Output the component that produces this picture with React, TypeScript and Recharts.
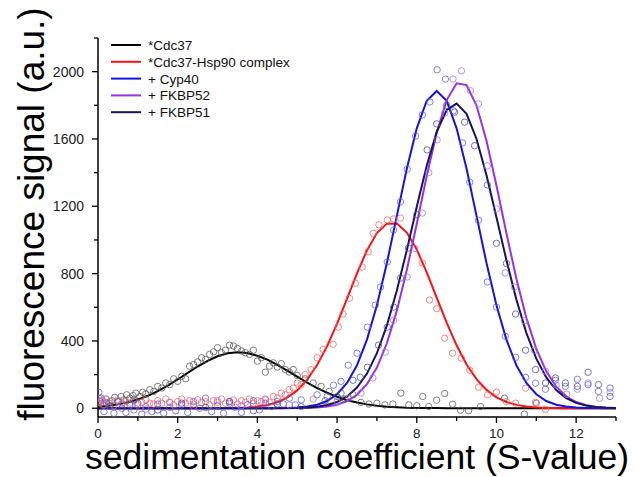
import React from 'react';
import { ComposedChart, Line, Scatter, XAxis, YAxis, Label } from 'recharts';

const FONT = "'Liberation Sans', Arial, Helvetica, sans-serif";

// sedimentation coefficient grid for the fitted curves
const sValues = [
  0, 0.25, 0.5, 0.75, 1, 1.25, 1.5, 1.75, 2, 2.25, 2.5, 2.75, 3, 3.25, 3.5, 3.75, 4, 4.25,
  4.5, 4.75, 5, 5.25, 5.5, 5.75, 6, 6.25, 6.5, 6.75, 7, 7.25, 7.5, 7.75, 8, 8.25, 8.5, 8.75,
  9, 9.25, 9.5, 9.75, 10, 10.25, 10.5, 10.75, 11, 11.25, 11.5, 11.75, 12, 12.25, 12.5, 12.75, 13
];

const cdc37Fit = [
  9, 15, 23, 36, 52, 74, 102, 135, 171, 210, 248, 282, 309, 327, 333, 328, 312, 289,
  258, 224, 188, 152, 120, 92, 68, 48, 34, 23, 15, 9, 6, 3, 2, 1, 1, 0,
  0, 0, 0, 0, 0, 0, 0, 0, 0, 0, 0, 0, 0, 0, 0, 0, 0
];
const hsp90Fit = [
  0, 0, 0, 0, 0, 0, 0, 0, 0, 0, 0, 0, 0, 1, 2, 5, 10, 19,
  36, 63, 106, 170, 257, 369, 503, 652, 802, 938, 1041, 1097, 1098, 1044, 943, 808, 658, 509,
  374, 260, 173, 109, 65, 37, 20, 10, 5, 2, 1, 0, 0, 0, 0, 0, 0
];
const cyp40Fit = [
  0, 0, 0, 0, 0, 0, 0, 0, 0, 0, 0, 0, 0, 0, 0, 0, 0, 0,
  1, 2, 4, 10, 21, 43, 83, 150, 255, 408, 612, 863, 1143, 1423, 1663, 1827, 1885, 1827,
  1663, 1423, 1143, 863, 612, 408, 255, 150, 83, 43, 21, 10, 4, 2, 1, 0, 0
];
const fkbp52Fit = [
  0, 0, 0, 0, 0, 0, 0, 0, 0, 0, 0, 0, 0, 0, 0, 0, 0, 0,
  0, 0, 1, 2, 4, 10, 21, 42, 80, 143, 242, 386, 580, 821, 1096, 1380, 1637, 1831,
  1931, 1920, 1799, 1589, 1324, 1040, 770, 537, 353, 219, 128, 71, 37, 18, 8, 4, 2
];
const fkbp51Fit = [
  0, 0, 0, 0, 0, 0, 0, 0, 0, 0, 0, 0, 0, 0, 0, 0, 0, 0,
  0, 1, 2, 4, 9, 19, 37, 70, 123, 206, 327, 492, 699, 939, 1197, 1441, 1642, 1772,
  1810, 1749, 1600, 1385, 1135, 880, 646, 448, 295, 183, 108, 60, 32, 16, 7, 3, 1
];

// measured points [S-value, signal]
const cdc37Points: [number, number][] = [
  [0.05, 40], [0.12, 20], [0.2, 55], [0.28, 30], [0.35, 45], [0.42, 65], [0.5, 40], [0.58, 70],
  [0.65, 50], [0.72, 80], [0.8, 60], [0.88, 75], [0.95, 90], [1.05, 70], [1.12, 95], [1.2, 85],
  [1.3, 110], [1.4, 100], [1.5, 130], [1.6, 120], [1.7, 150], [1.8, 140], [1.9, 175], [2.0, 160],
  [2.1, 190], [2.2, 175], [2.3, 250], [2.4, 260], [2.5, 275], [2.6, 300], [2.7, 290], [2.8, 320],
  [2.9, 335], [3.0, 360], [3.1, 330], [3.2, 345], [3.3, 375], [3.4, 370], [3.5, 355], [3.6, 340],
  [3.7, 330], [3.8, 320], [3.9, 345], [4.0, 280], [4.1, 300], [4.2, 214], [4.3, 250], [4.4, 270],
  [4.5, 245], [4.6, 265], [4.7, 230], [4.8, 215], [4.9, 230], [5.0, 195], [5.2, 175], [5.4, 150],
  [5.6, 130], [5.8, 100], [6.0, 70], [6.2, 55], [6.4, 80], [6.6, 35], [6.8, 25], [7.0, 30],
  [7.2, 20], [7.4, 25], [7.6, 90], [7.8, 20], [8.0, 15], [8.15, 70], [8.3, 10], [8.5, 48],
  [8.7, 88], [8.9, 24], [9.1, -12], [9.3, -15], [9.6, 10], [10.2, 60], [10.7, -35], [11.0, 30]
];
const hsp90Points: [number, number][] = [
  [0.02, 60], [0.06, 30], [0.1, 45], [0.15, 20], [0.2, 35], [0.3, 40], [0.4, 15], [0.5, 50],
  [0.6, 25], [0.7, 40], [0.8, 30], [0.9, 45], [1.0, 20], [1.1, 35], [1.2, 50], [1.3, 30],
  [1.4, 25], [1.5, 45], [1.6, 30], [1.7, 55], [1.8, 35], [1.9, 20], [2.0, 40], [2.1, 55],
  [2.2, 30], [2.3, 45], [2.4, 25], [2.5, 50], [2.6, 35], [2.7, 40], [2.8, 20], [2.9, 45],
  [3.0, 35], [3.1, 55], [3.2, 30], [3.3, 40], [3.4, 50], [3.5, 25], [3.6, 45], [3.7, 35],
  [3.8, 55], [3.9, 30], [4.0, 45], [4.1, 40], [4.2, 55], [4.3, 35], [4.4, 70], [4.5, 60],
  [4.6, 90], [4.7, 80], [4.8, 110], [4.9, 120], [5.0, 150], [5.1, 140], [5.2, 200], [5.35, 230],
  [5.5, 300], [5.65, 350], [5.9, 380], [6.03, 482], [6.15, 560], [6.31, 654], [6.46, 743],
  [6.63, 839], [6.78, 930], [6.91, 1040], [7.05, 1090], [7.26, 1119], [7.42, 1125], [7.59, 1130],
  [8.14, 864], [8.32, 643], [8.5, 592], [8.7, 416], [8.9, 327], [9.12, 298], [9.33, 226],
  [9.55, 125], [9.78, 80], [10.0, 95], [10.25, 40], [10.48, 30], [10.73, 119], [10.98, 36],
  [11.23, -6]
];
const cyp40Points: [number, number][] = [
  [0.02, 95], [0.08, 60], [0.15, -20], [0.22, 30], [0.3, 10], [0.4, -30], [0.5, 40], [0.6, 0],
  [0.7, -25], [0.8, 20], [0.9, -10], [1.0, 30], [1.1, -35], [1.2, 10], [1.35, -20], [1.5, 25],
  [1.65, -30], [1.8, 5], [1.95, -15], [2.1, 20], [2.25, -25], [2.4, 40], [2.55, 0], [2.7, 60],
  [2.85, -20], [3.0, 15], [3.15, -30], [3.3, 30], [3.45, 5], [3.6, -25], [3.75, 20], [3.9, 45],
  [4.05, -10], [4.2, 30], [4.35, 10], [4.5, 40], [4.65, 25], [4.8, 60], [4.95, 20], [5.1, 50],
  [5.5, 80], [5.75, 70], [5.91, 137], [6.1, 160], [6.28, 256], [6.5, 327], [6.76, 482],
  [6.96, 613], [7.09, 720], [7.26, 869], [7.42, 1059], [7.59, 1226], [7.76, 1420], [7.97, 1617],
  [8.14, 1743], [8.33, 1820], [8.51, 2011], [8.72, 1956], [8.92, 1767], [9.15, 1577], [9.33, 1343],
  [9.55, 1117], [9.77, 750], [10.0, 601], [10.22, 428], [10.48, 303], [10.73, 184], [10.98, 149],
  [11.23, 113], [11.48, 166], [11.73, 130], [12.03, 172], [12.3, 140], [12.56, 100], [12.85, 120]
];
const fkbp52Points: [number, number][] = [
  [0.1, 50], [0.6, 30], [1.2, -5], [1.8, 35], [2.4, 10], [3.0, 45], [3.6, 15], [4.2, 50],
  [4.8, 20], [5.4, 55], [6.0, 40], [6.3, 60], [6.6, 90], [6.9, 180], [7.21, 333], [7.42, 523],
  [7.76, 780], [7.95, 950], [8.14, 1160], [8.3, 1400], [8.51, 1595], [8.7, 1753], [8.91, 1956],
  [9.12, 2005], [9.35, 1887], [9.55, 1809], [9.77, 1440], [10.0, 1184], [10.22, 804], [10.45, 720],
  [10.7, 520], [10.95, 345], [11.23, 220], [11.5, 137], [11.76, 83], [12.03, 113], [12.3, 150],
  [12.59, 60], [12.85, 95]
];
const fkbp51Points: [number, number][] = [
  [0.3, 15], [0.9, 50], [1.5, -10], [2.1, 30], [2.7, 5], [3.3, 40], [3.9, -15], [4.5, 25],
  [5.1, 10], [5.7, 45], [6.1, 90], [6.4, 166], [6.58, 184], [6.76, 244], [7.04, 375], [7.26, 482],
  [7.42, 601], [7.59, 773], [7.79, 952], [8.0, 1150], [8.26, 1535], [8.5, 1690], [8.75, 1800],
  [8.95, 1760], [9.2, 1700], [9.45, 1560], [9.77, 1327], [10.0, 980], [10.25, 860], [10.48, 560],
  [10.73, 345], [10.98, 230], [11.23, 150], [11.48, 180], [11.73, 150], [12.03, 130], [12.3, 214],
  [12.56, 140], [12.85, 70]
];

const xTicks = [0, 1, 2, 3, 4, 5, 6, 7, 8, 9, 10, 11, 12, 13];
const yTicks = [0, 200, 400, 600, 800, 1000, 1200, 1400, 1600, 1800, 2000, 2200];

const series = [
  { key: 'cdc37', name: '*Cdc37', line: '#000000', dot: '#555555', fit: cdc37Fit, points: cdc37Points },
  { key: 'hsp90', name: '*Cdc37-Hsp90 complex', line: '#ff1010', dot: '#f06060', fit: hsp90Fit, points: hsp90Points },
  { key: 'cyp40', name: '+ Cyp40', line: '#1414e0', dot: '#5a5ae0', fit: cyp40Fit, points: cyp40Points },
  { key: 'fkbp52', name: '+ FKBP52', line: '#9a30ea', dot: '#a070e8', fit: fkbp52Fit, points: fkbp52Points },
  { key: 'fkbp51', name: '+ FKBP51', line: '#15155c', dot: '#4a4a9a', fit: fkbp51Fit, points: fkbp51Points }
];

const curveRows = sValues.map((x, i) => {
  const row: Record<string, number> = { x };
  series.forEach((s) => {
    row[s.key] = s.fit[i];
  });
  return row;
});

function XTick(props: any) {
  const { x, y, payload } = props;
  const v = payload.value;
  const major = v % 2 === 0;
  return (
    <g>
      <line x1={x} x2={x} y1={y} y2={y + (major ? 6 : 4)} stroke="#000" strokeWidth={1.3} />
      {major && (
        <text x={x} y={y + 21} textAnchor="middle" fontSize={13.5} fill="#222" fontFamily={FONT}>
          {v}
        </text>
      )}
    </g>
  );
}

function YTick(props: any) {
  const { x, y, payload } = props;
  const v = payload.value;
  const major = v % 400 === 0 && v <= 2000;
  return (
    <g>
      <line x1={x - (major ? 6 : 4)} x2={x} y1={y} y2={y} stroke="#000" strokeWidth={1.3} />
      {major && (
        <text x={x - 14} y={y + 5} textAnchor="end" fontSize={14} fill="#222" fontFamily={FONT}>
          {v}
        </text>
      )}
    </g>
  );
}

function LegendBox() {
  return (
    <svg width={240} height={90} style={{ position: 'absolute', left: 108, top: 36 }}>
      {series.map((s, i) => {
        const cy = 9 + i * 16.8;
        return (
          <g key={s.key}>
            <line x1={3} x2={33} y1={cy} y2={cy} stroke={s.line} strokeWidth={2} />
            <text x={40} y={cy + 5} fontSize={13.5} fill="#111" fontFamily={FONT}>
              {s.name}
            </text>
          </g>
        );
      })}
    </svg>
  );
}

export default function App() {
  return (
    <div style={{ position: 'absolute', left: 0, top: 0, width: 644, height: 477, background: '#fff' }}>
      <ComposedChart
        width={644}
        height={477}
        data={curveRows}
        margin={{ top: 38, right: 28, bottom: 0, left: 38 }}
      >
        <XAxis
          dataKey="x"
          type="number"
          domain={[0, 13]}
          ticks={xTicks}
          interval={0}
          allowDataOverflow
          height={60}
          axisLine={{ stroke: '#000', strokeWidth: 1.5 }}
          tickLine={false}
          tickSize={0}
          tickMargin={0}
          tick={<XTick />}
        >
          <Label
            content={() => (
              <text x={357} y={469} textAnchor="middle" fontSize={35.5} fill="#000" fontFamily={FONT}>
                sedimentation coefficient (S-value)
              </text>
            )}
          />
        </XAxis>
        <YAxis
          type="number"
          domain={[-52, 2200]}
          ticks={yTicks}
          interval={0}
          allowDataOverflow
          width={60}
          axisLine={{ stroke: '#000', strokeWidth: 1.5 }}
          tickLine={false}
          tickSize={0}
          tickMargin={0}
          tick={<YTick />}
        >
          <Label
            content={() => (
              <text
                transform="translate(44, 214) rotate(-90)"
                textAnchor="middle"
                fontSize={37}
                fill="#000"
                fontFamily={FONT}
              >
                fluorescence signal (a.u.)
              </text>
            )}
          />
        </YAxis>
        {series.map((s) => (
          <Scatter
            key={`pts-${s.key}`}
            data={s.points.map(([x, y]) => ({ x, y }))}
            dataKey="y"
            isAnimationActive={false}
            shape={(p: any) => (
              <circle cx={p.cx} cy={p.cy} r={3.2} fill="none" stroke={s.dot} strokeOpacity={0.75} strokeWidth={1} />
            )}
          />
        ))}
        {series.map((s) => (
          <Line
            key={`fit-${s.key}`}
            dataKey={s.key}
            type="linear"
            stroke={s.line}
            strokeWidth={2}
            dot={false}
            isAnimationActive={false}
          />
        ))}
      </ComposedChart>
      <LegendBox />
    </div>
  );
}
